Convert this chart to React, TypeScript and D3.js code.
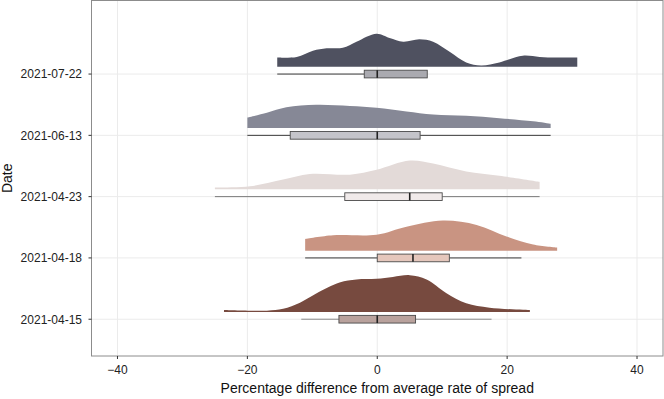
import React from 'react';
import * as d3 from 'd3';

// categories, bottom to top
const dates = ['2021-04-15', '2021-04-18', '2021-04-23', '2021-06-13', '2021-07-22'];

// density curves (x = % difference, d = density)
const dens_0415_x = [-23.6, -17, -14.5, -11.9, -9.4, -5.8, -3.2, -0.1, 2.4, 5, 7.6, 10.6, 13.7, 17.3, 23.5];
const dens_0415_d = [0.003, 0.002, 0.005, 0.015, 0.030, 0.048, 0.053, 0.054, 0.057, 0.060, 0.053, 0.031, 0.014, 0.007, 0.003];
const dens_0418_x = [-11.1, -6.8, -0.1, 4.5, 10.1, 15.3, 19.9, 24, 27.7];
const dens_0418_d = [0.019, 0.025, 0.026, 0.039, 0.049, 0.042, 0.023, 0.010, 0.005];
const dens_0423_x = [-25, -19.6, -14.5, -10.4, -4.2, -0.1, 5, 8.6, 13.7, 18.8, 25];
const dens_0423_d = [0.003, 0.005, 0.016, 0.025, 0.024, 0.032, 0.047, 0.042, 0.029, 0.022, 0.012];
const dens_0613_x = [-20, -17, -14, -9.4, -4.2, -0.1, 4.5, 8.6, 13.7, 18.8, 24, 26.7];
const dens_0613_d = [0.017, 0.025, 0.034, 0.038, 0.036, 0.033, 0.027, 0.022, 0.020, 0.016, 0.011, 0.007];
const dens_0722_x = [-15.4, -12.4, -9.9, -7.8, -5.3, -3.2, -0.1, 1.9, 4, 6.5, 8.6, 11.2, 13.7, 16, 18.8, 22.4, 25, 27.6, 30.8];
const dens_0722_d = [0.015, 0.016, 0.026, 0.030, 0.031, 0.041, 0.054, 0.047, 0.041, 0.045, 0.041, 0.024, 0.007, 0.002, 0.007, 0.018, 0.016, 0.015, 0.015];

// box stats: [lower whisker, q1, median, q3, upper whisker]
const boxStats = [
  [-11.7, -5.9, 0, 5.9, 17.6],
  [-11.1, 0, 5.5, 11.1, 22.2],
  [-25, -5, 5, 10, 25],
  [-20, -13.4, 0, 6.6, 26.7],
  [-15.4, -2, 0, 7.7, 7.7],
];

const densityFill = ['#774a3f', '#c99482', '#e3dad8', '#868896', '#4f5160'];
const boxFill = ['#b9a29d', '#e5c7bc', '#f0eaea', '#c4c4ca', '#aaaab0'];
const whiskerColor = ['#8a8a8a', '#3a3a3a', '#7a7a7a', '#3a3a3a', '#3a3a3a'];

const xTicks = [-40, -20, 0, 20, 40];

const W = 664;
const H = 399;
const panel = { left: 91.5, right: 663, top: 0.5, bottom: 356 };

export default function App() {
  const densities = [
    d3.zip(dens_0415_x, dens_0415_d),
    d3.zip(dens_0418_x, dens_0418_d),
    d3.zip(dens_0423_x, dens_0423_d),
    d3.zip(dens_0613_x, dens_0613_d),
    d3.zip(dens_0722_x, dens_0722_d),
  ];

  const x = d3.scaleLinear().domain([-44, 44]).range([panel.left, panel.right]);
  // discrete positions 1..5, expanded like ggplot to fit the clouds
  const y = d3.scaleLinear().domain([0.4, 6.2]).range([panel.bottom, panel.top]);
  const band = y(1) - y(2);
  const h = d3.scaleLinear().domain([0, 0.06]).range([0, band * 0.6]);
  const offset = band * 0.119;
  const boxH = band * 0.125;

  return (
    <svg width={W} height={H} style={{ position: 'absolute', left: 0, top: 0 }}
      fontFamily="'Liberation Sans', Arial, sans-serif">
      <rect x={0} y={0} width={W} height={H} fill="#fff" />
      {/* grid */}
      {xTicks.map(t => (
        <line key={'gx' + t} x1={x(t)} x2={x(t)} y1={panel.top} y2={panel.bottom} stroke="#ebebeb" strokeWidth={1} />
      ))}
      {dates.map((d, i) => (
        <line key={'gy' + d} x1={panel.left} x2={panel.right} y1={y(i + 1)} y2={y(i + 1)} stroke="#ebebeb" strokeWidth={1} />
      ))}

      {dates.map((d, i) => {
        const base = y(i + 1) - offset;
        const area = d3.area<[number, number]>()
          .x(p => x(p[0]))
          .y0(base)
          .y1(p => base - h(p[1]))
          .curve(d3.curveCatmullRom.alpha(0.5));
        const [lo, q1, med, q3, hi] = boxStats[i];
        const cy = y(i + 1);
        return (
          <g key={d}>
            <path d={area(densities[i] as [number, number][]) || ''} fill={densityFill[i]} />
            <line x1={x(lo)} x2={x(q1)} y1={cy} y2={cy} stroke={whiskerColor[i]} strokeWidth={1} />
            <line x1={x(q3)} x2={x(hi)} y1={cy} y2={cy} stroke={whiskerColor[i]} strokeWidth={1} />
            <rect x={x(q1)} y={cy - boxH / 2} width={x(q3) - x(q1)} height={boxH}
              fill={boxFill[i]} stroke="#4a4a4a" strokeWidth={0.9} />
            <line x1={x(med)} x2={x(med)} y1={cy - boxH / 2} y2={cy + boxH / 2} stroke="#222" strokeWidth={1.6} />
          </g>
        );
      })}

      {/* panel border */}
      <rect x={panel.left} y={panel.top} width={panel.right - panel.left} height={panel.bottom - panel.top}
        fill="none" stroke="#8c8c8c" strokeWidth={1} />

      {/* x axis */}
      {xTicks.map(t => (
        <g key={'xt' + t}>
          <line x1={x(t)} x2={x(t)} y1={panel.bottom} y2={panel.bottom + 3} stroke="#333" />
          <text x={x(t)} y={374} textAnchor="middle" fontSize={12} fill="#222">{t < 0 ? '\u2212' + Math.abs(t) : t}</text>
        </g>
      ))}
      <text x={(panel.left + panel.right) / 2} y={392.5} textAnchor="middle" fontSize={14} fill="#111">
        Percentage difference from average rate of spread
      </text>

      {/* y axis */}
      {dates.map((d, i) => (
        <g key={'yt' + d}>
          <line x1={panel.left - 3} x2={panel.left} y1={y(i + 1)} y2={y(i + 1)} stroke="#333" />
          <text x={82} y={y(i + 1) + 4.3} textAnchor="end" fontSize={12} fill="#222">{d}</text>
        </g>
      ))}
      <text transform={`translate(11.5,${(panel.top + panel.bottom) / 2}) rotate(-90)`} textAnchor="middle" fontSize={14} fill="#111">
        Date
      </text>
    </svg>
  );
}
